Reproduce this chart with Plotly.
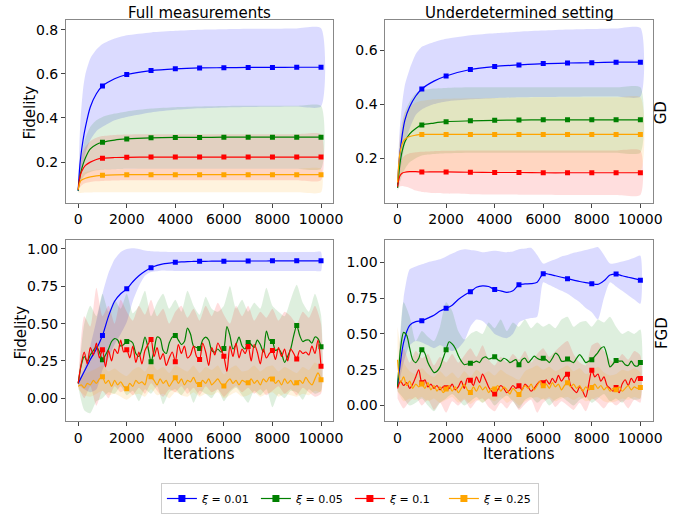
import plotly.graph_objects as go

# ---------------- data ----------------
labels = ["<i>ξ</i> = 0.01", "<i>ξ</i> = 0.05", "<i>ξ</i> = 0.1", "<i>ξ</i> = 0.25"]
colors = ["#0000ff", "#008000", "#ff0000", "#ffa500"]
band_colors = ["rgba(0,0,255,0.14)", "rgba(0,128,0,0.13)", "rgba(255,0,0,0.13)", "rgba(255,165,0,0.13)"]

x_ticks = [0, 2000, 4000, 6000, 8000, 10000]

# ---- GD, smooth curves (top row) ----
x_gd = [0, 50, 100, 200, 300, 500, 750, 1000, 1500, 2000, 3000, 4000, 5000, 6000, 7000, 8000, 9000, 10000]

# Full measurements, GD
tl_mean_001 = [0.07, 0.16, 0.22, 0.30, 0.36, 0.45, 0.51, 0.545, 0.578, 0.597, 0.615, 0.623, 0.627, 0.628, 0.629, 0.629, 0.630, 0.630]
tl_up_001 = [0.08, 0.28, 0.40, 0.53, 0.60, 0.67, 0.71, 0.735, 0.76, 0.775, 0.788, 0.795, 0.800, 0.802, 0.804, 0.805, 0.806, 0.807]
tl_lo_001 = [0.065, 0.10, 0.13, 0.19, 0.24, 0.30, 0.34, 0.36, 0.39, 0.405, 0.425, 0.437, 0.444, 0.448, 0.450, 0.451, 0.452, 0.452]
tl_mean_005 = [0.07, 0.12, 0.15, 0.19, 0.22, 0.26, 0.28, 0.29, 0.30, 0.305, 0.31, 0.312, 0.312, 0.313, 0.313, 0.313, 0.313, 0.313]
tl_up_005 = [0.08, 0.16, 0.21, 0.27, 0.31, 0.36, 0.39, 0.405, 0.42, 0.43, 0.443, 0.449, 0.452, 0.454, 0.455, 0.455, 0.455, 0.455]
tl_lo_005 = [0.06, 0.09, 0.11, 0.13, 0.145, 0.155, 0.163, 0.166, 0.168, 0.17, 0.17, 0.17, 0.17, 0.17, 0.17, 0.17, 0.17, 0.17]
tl_mean_01 = [0.075, 0.12, 0.145, 0.17, 0.185, 0.20, 0.212, 0.218, 0.221, 0.222, 0.223, 0.223, 0.223, 0.223, 0.223, 0.223, 0.223, 0.223]
tl_up_01 = [0.085, 0.17, 0.21, 0.25, 0.27, 0.295, 0.31, 0.318, 0.323, 0.325, 0.326, 0.326, 0.326, 0.326, 0.326, 0.326, 0.326, 0.326]
tl_lo_01 = [0.065, 0.08, 0.09, 0.10, 0.105, 0.11, 0.113, 0.115, 0.117, 0.118, 0.118, 0.118, 0.118, 0.118, 0.118, 0.118, 0.118, 0.118]
tl_mean_025 = [0.075, 0.10, 0.115, 0.122, 0.127, 0.133, 0.138, 0.14, 0.142, 0.143, 0.143, 0.143, 0.143, 0.143, 0.143, 0.143, 0.143, 0.143]
tl_up_025 = [0.085, 0.12, 0.14, 0.15, 0.155, 0.16, 0.165, 0.167, 0.168, 0.169, 0.17, 0.17, 0.17, 0.17, 0.17, 0.17, 0.17, 0.17]
tl_lo_025 = [0.065, 0.06, 0.06, 0.061, 0.062, 0.062, 0.063, 0.063, 0.063, 0.063, 0.063, 0.063, 0.063, 0.063, 0.063, 0.063, 0.063, 0.063]

# Underdetermined, GD
tr_mean_001 = [0.10, 0.17, 0.22, 0.29, 0.34, 0.39, 0.43, 0.456, 0.485, 0.504, 0.528, 0.539, 0.545, 0.550, 0.552, 0.553, 0.555, 0.555]
tr_up_001 = [0.11, 0.24, 0.32, 0.41, 0.47, 0.53, 0.585, 0.612, 0.63, 0.642, 0.655, 0.662, 0.668, 0.672, 0.676, 0.678, 0.680, 0.682]
tr_lo_001 = [0.09, 0.12, 0.15, 0.20, 0.25, 0.31, 0.36, 0.38, 0.40, 0.41, 0.418, 0.422, 0.425, 0.426, 0.427, 0.428, 0.428, 0.428]
tr_mean_005 = [0.09, 0.14, 0.18, 0.23, 0.26, 0.29, 0.31, 0.323, 0.33, 0.335, 0.338, 0.34, 0.341, 0.342, 0.342, 0.342, 0.342, 0.342]
tr_up_005 = [0.10, 0.20, 0.26, 0.33, 0.37, 0.41, 0.44, 0.452, 0.458, 0.46, 0.462, 0.462, 0.462, 0.462, 0.462, 0.462, 0.462, 0.462]
tr_lo_005 = [0.08, 0.09, 0.11, 0.14, 0.16, 0.185, 0.20, 0.21, 0.215, 0.218, 0.22, 0.22, 0.22, 0.22, 0.22, 0.22, 0.22, 0.22]
tr_mean_01 = [0.095, 0.12, 0.135, 0.145, 0.148, 0.15, 0.15, 0.149, 0.149, 0.149, 0.148, 0.147, 0.147, 0.146, 0.146, 0.146, 0.146, 0.146]
tr_up_01 = [0.10, 0.15, 0.175, 0.20, 0.21, 0.218, 0.222, 0.224, 0.226, 0.227, 0.228, 0.228, 0.228, 0.228, 0.228, 0.228, 0.228, 0.228]
tr_lo_01 = [0.09, 0.09, 0.095, 0.097, 0.095, 0.09, 0.08, 0.075, 0.071, 0.069, 0.067, 0.066, 0.065, 0.065, 0.064, 0.064, 0.064, 0.064]
tr_mean_025 = [0.11, 0.18, 0.22, 0.255, 0.27, 0.28, 0.285, 0.288, 0.288, 0.288, 0.288, 0.288, 0.288, 0.288, 0.288, 0.288, 0.288, 0.288]
tr_up_025 = [0.12, 0.23, 0.29, 0.34, 0.37, 0.39, 0.405, 0.412, 0.418, 0.42, 0.422, 0.423, 0.424, 0.425, 0.425, 0.425, 0.425, 0.425]
tr_lo_025 = [0.10, 0.12, 0.13, 0.14, 0.145, 0.148, 0.15, 0.15, 0.15, 0.15, 0.15, 0.15, 0.15, 0.15, 0.15, 0.15, 0.15, 0.15]

# ---- FGD (bottom row) ----
x_fine = [i * 125 for i in range(81)]     # noisy means
x_band = [i * 250 for i in range(41)]     # bands and xi=0.01 curves

# Full measurements, FGD
bl_mean_001 = [0.10, 0.18, 0.26, 0.33, 0.42, 0.55, 0.65, 0.70,
               0.733, 0.78, 0.82, 0.85, 0.874, 0.89, 0.90, 0.905,
               0.91, 0.913, 0.915, 0.916, 0.917, 0.917, 0.918, 0.918,
               0.918, 0.918, 0.918, 0.918, 0.919, 0.919, 0.919, 0.919,
               0.92, 0.92, 0.92, 0.92, 0.92, 0.92, 0.92, 0.92, 0.92]
bl_up_001 = [0.11, 0.20, 0.35, 0.52, 0.70, 0.84, 0.93, 0.98,
             1.00, 1.005, 1.00, 0.99, 0.985, 0.983, 0.981, 0.98,
             0.98, 0.98, 0.98, 0.98, 0.98, 0.98, 0.98, 0.98,
             0.98, 0.98, 0.98, 0.98, 0.98, 0.98, 0.98, 0.98,
             0.98, 0.98, 0.98, 0.98, 0.98, 0.98, 0.98, 0.98, 0.98]
bl_lo_001 = [0.09, 0.06, 0.04, 0.06, 0.19, 0.27, 0.36, 0.43,
             0.51, 0.65, 0.75, 0.82, 0.845, 0.85, 0.855, 0.853,
             0.852, 0.852, 0.852, 0.852, 0.852, 0.852, 0.852, 0.852,
             0.852, 0.852, 0.852, 0.852, 0.852, 0.852, 0.852, 0.852,
             0.852, 0.852, 0.852, 0.852, 0.852, 0.852, 0.852, 0.852, 0.852]
bl_mean_005 = [0.10, 0.22, 0.28, 0.25, 0.29, 0.32, 0.345, 0.31,
               0.258, 0.29, 0.33, 0.38, 0.40, 0.39, 0.35, 0.36,
               0.38, 0.385, 0.37, 0.30, 0.28, 0.33, 0.41, 0.34,
               0.245, 0.32, 0.41, 0.40, 0.32, 0.30, 0.37, 0.41,
               0.42, 0.39, 0.36, 0.38, 0.47, 0.43, 0.35, 0.34,
               0.334, 0.39, 0.41, 0.39, 0.32, 0.31, 0.33, 0.31,
               0.334, 0.48, 0.42, 0.33, 0.36, 0.41, 0.35, 0.33,
               0.374, 0.36, 0.34, 0.39, 0.36, 0.31, 0.45, 0.39,
               0.38, 0.32, 0.33, 0.30, 0.24, 0.28, 0.33, 0.42,
               0.487, 0.42, 0.38, 0.39, 0.39, 0.37, 0.41, 0.40,
               0.345]
bl_mean_01 = [0.10, 0.23, 0.31, 0.23, 0.34, 0.29, 0.37, 0.27,
              0.325, 0.21, 0.32, 0.25, 0.33, 0.30, 0.39, 0.31,
              0.325, 0.27, 0.35, 0.24, 0.31, 0.23, 0.32, 0.36,
              0.394, 0.28, 0.34, 0.26, 0.30, 0.22, 0.27, 0.31,
              0.245, 0.36, 0.30, 0.35, 0.27, 0.29, 0.35, 0.28,
              0.259, 0.37, 0.31, 0.22, 0.34, 0.29, 0.37, 0.33,
              0.281, 0.18, 0.35, 0.28, 0.37, 0.27, 0.33, 0.30,
              0.347, 0.25, 0.36, 0.31, 0.23, 0.33, 0.27, 0.30,
              0.32, 0.26, 0.34, 0.28, 0.33, 0.25, 0.33, 0.30,
              0.263, 0.32, 0.30, 0.31, 0.29, 0.35, 0.30, 0.39,
              0.214]
bl_mean_025 = [0.08, 0.09, 0.07, 0.10, 0.09, 0.12, 0.10, 0.13,
               0.144, 0.10, 0.12, 0.08, 0.12, 0.09, 0.11, 0.08,
               0.064, 0.10, 0.08, 0.12, 0.10, 0.11, 0.09, 0.16,
               0.144, 0.12, 0.09, 0.13, 0.10, 0.12, 0.08, 0.11,
               0.137, 0.10, 0.13, 0.09, 0.12, 0.11, 0.14, 0.10,
               0.093, 0.12, 0.10, 0.13, 0.09, 0.11, 0.13, 0.10,
               0.082, 0.11, 0.13, 0.10, 0.12, 0.09, 0.12, 0.11,
               0.104, 0.13, 0.10, 0.12, 0.09, 0.13, 0.11, 0.14,
               0.13, 0.10, 0.12, 0.09, 0.13, 0.10, 0.12, 0.09,
               0.104, 0.12, 0.10, 0.14, 0.11, 0.09, 0.13, 0.17,
               0.124]
bl_up_005 = [0.12, 0.50, 0.62, 0.55, 0.70, 0.58, 0.66, 0.60,
             0.70, 0.57, 0.62, 0.72, 0.55, 0.64, 0.70, 0.60,
             0.66, 0.58, 0.72, 0.62, 0.56, 0.68, 0.60, 0.58,
             0.62, 0.75, 0.60, 0.66, 0.58, 0.64, 0.60, 0.74,
             0.62, 0.58, 0.55, 0.66, 0.76, 0.64, 0.58, 0.70, 0.56]
bl_lo_005 = [0.08, -0.08, -0.10, -0.02, 0.00, 0.04, 0.03, 0.08,
             0.02, 0.05, -0.02, 0.06, 0.03, 0.08, -0.04, 0.04,
             0.06, 0.02, 0.07, -0.03, 0.05, 0.03, 0.00, 0.06,
             -0.02, 0.04, 0.07, 0.02, -0.03, 0.05, 0.02, 0.06,
             -0.06, 0.03, 0.00, 0.05, 0.04, -0.01, 0.06, 0.03, 0.05]
bl_up_01 = [0.12, 0.55, 0.48, 0.74, 0.55, 0.62, 0.50, 0.66,
            0.58, 0.52, 0.62, 0.56, 0.66, 0.55, 0.60, 0.50,
            0.58, 0.62, 0.54, 0.60, 0.52, 0.62, 0.55, 0.64,
            0.56, 0.50, 0.62, 0.55, 0.62, 0.52, 0.58, 0.54,
            0.60, 0.52, 0.58, 0.55, 0.50, 0.58, 0.54, 0.62, 0.50]
bl_lo_01 = [0.08, 0.00, 0.08, -0.05, 0.05, 0.00, 0.08, 0.04,
            0.06, 0.02, 0.07, 0.03, 0.10, 0.05, 0.01, 0.06,
            0.04, 0.08, 0.03, 0.07, 0.02, 0.08, 0.04, 0.06,
            0.01, 0.05, 0.08, 0.04, 0.07, 0.03, 0.06, 0.02,
            0.05, 0.08, 0.03, 0.06, 0.02, 0.07, 0.04, 0.01, 0.03]
bl_up_025 = [0.10, 0.16, 0.18, 0.20, 0.22, 0.18, 0.20, 0.17,
             0.15, 0.19, 0.21, 0.18, 0.24, 0.19, 0.21, 0.17,
             0.22, 0.20, 0.18, 0.22, 0.17, 0.21, 0.19, 0.22,
             0.16, 0.20, 0.22, 0.18, 0.19, 0.22, 0.18, 0.21,
             0.22, 0.18, 0.21, 0.19, 0.17, 0.21, 0.19, 0.24, 0.20]
bl_lo_025 = [0.06, 0.02, 0.01, 0.03, 0.05, 0.02, 0.03, 0.01,
             -0.01, 0.02, 0.03, 0.01, 0.06, 0.02, 0.03, 0.00,
             0.04, 0.02, 0.01, 0.04, 0.01, 0.03, 0.02, 0.04,
             0.00, 0.02, 0.04, 0.01, 0.02, 0.04, 0.01, 0.03,
             0.04, 0.01, 0.03, 0.02, 0.01, 0.03, 0.02, 0.05, 0.04]

# Underdetermined, FGD
br_mean_001 = [0.13, 0.44, 0.56, 0.585, 0.591, 0.61, 0.63, 0.66,
               0.678, 0.70, 0.74, 0.77, 0.793, 0.825, 0.835, 0.83,
               0.809, 0.80, 0.79, 0.80, 0.843, 0.848, 0.85, 0.86,
               0.92, 0.915, 0.905, 0.895, 0.885, 0.875, 0.865, 0.857,
               0.85, 0.845, 0.87, 0.91, 0.917, 0.905, 0.895, 0.885, 0.874]
br_up_001 = [0.20, 0.75, 0.95, 0.97, 0.985, 1.00, 1.01, 1.02,
             1.04, 1.06, 1.08, 1.09, 1.085, 1.08, 1.07, 1.075,
             1.08, 1.075, 1.07, 1.075, 1.09, 1.095, 1.10, 1.05,
             0.99, 1.005, 1.02, 1.04, 1.05, 1.065, 1.075, 1.085,
             1.095, 1.105, 1.05, 0.99, 0.995, 1.005, 1.015, 1.03, 1.045]
br_lo_001 = [0.10, 0.30, 0.42, 0.45, 0.44, 0.42, 0.40, 0.42,
             0.40, 0.38, 0.40, 0.45, 0.55, 0.60, 0.59, 0.55,
             0.50, 0.48, 0.47, 0.50, 0.58, 0.60, 0.61, 0.62,
             0.86, 0.84, 0.82, 0.80, 0.78, 0.75, 0.72, 0.68,
             0.65, 0.60, 0.75, 0.86, 0.83, 0.80, 0.77, 0.74, 0.71]
br_mean_005 = [0.13, 0.40, 0.51, 0.49, 0.40, 0.32, 0.30, 0.33,
               0.39, 0.365, 0.30, 0.26, 0.23, 0.24, 0.27, 0.33,
               0.39, 0.445, 0.43, 0.40, 0.35, 0.31, 0.285, 0.29,
               0.295, 0.30, 0.31, 0.30, 0.33, 0.34, 0.325, 0.33,
               0.34, 0.32, 0.31, 0.33, 0.32, 0.30, 0.31, 0.32,
               0.285, 0.32, 0.33, 0.30, 0.32, 0.345, 0.33, 0.32,
               0.33, 0.32, 0.30, 0.33, 0.365, 0.35, 0.31, 0.31,
               0.325, 0.31, 0.30, 0.33, 0.355, 0.33, 0.30, 0.31,
               0.32, 0.345, 0.37, 0.40, 0.41, 0.35, 0.27, 0.29,
               0.315, 0.31, 0.31, 0.285, 0.28, 0.31, 0.28, 0.275,
               0.30]
br_mean_01 = [0.12, 0.17, 0.14, 0.16, 0.12, 0.15, 0.20, 0.25,
              0.16, 0.18, 0.13, 0.15, 0.12, 0.14, 0.11, 0.13,
              0.125, 0.12, 0.15, 0.11, 0.13, 0.17, 0.12, 0.19,
              0.176, 0.14, 0.20, 0.16, 0.22, 0.18, 0.13, 0.10,
              0.08, 0.11, 0.14, 0.12, 0.09, 0.11, 0.14, 0.12,
              0.138, 0.11, 0.15, 0.13, 0.10, 0.12, 0.15, 0.17,
              0.16, 0.18, 0.15, 0.19, 0.16, 0.21, 0.17, 0.20,
              0.218, 0.14, 0.11, 0.09, 0.13, 0.10, 0.06, 0.15,
              0.246, 0.20, 0.22, 0.17, 0.20, 0.14, 0.12, 0.10,
              0.126, 0.09, 0.15, 0.18, 0.14, 0.19, 0.16, 0.20,
              0.189]
br_mean_025 = [0.32, 0.16, 0.20, 0.14, 0.17, 0.12, 0.15, 0.13,
               0.15, 0.12, 0.16, 0.11, 0.14, 0.10, 0.13, 0.09,
               0.115, 0.14, 0.10, 0.13, 0.09, 0.12, 0.15, 0.11,
               0.092, 0.13, 0.10, 0.14, 0.11, 0.13, 0.09, 0.12,
               0.115, 0.14, 0.10, 0.13, 0.11, 0.08, 0.12, 0.10,
               0.077, 0.11, 0.14, 0.12, 0.15, 0.11, 0.14, 0.17,
               0.138, 0.15, 0.12, 0.16, 0.13, 0.15, 0.11, 0.14,
               0.16, 0.13, 0.15, 0.12, 0.14, 0.10, 0.13, 0.11,
               0.126, 0.15, 0.12, 0.14, 0.11, 0.13, 0.10, 0.12,
               0.11, 0.13, 0.10, 0.12, 0.14, 0.11, 0.13, 0.12,
               0.126]
br_up_005 = [0.15, 0.72, 0.62, 0.45, 0.52, 0.48, 0.45, 0.55,
             0.72, 0.66, 0.52, 0.46, 0.50, 0.52, 0.50, 0.58,
             0.54, 0.60, 0.52, 0.58, 0.55, 0.60, 0.54, 0.58,
             0.55, 0.57, 0.54, 0.60, 0.62, 0.55, 0.58, 0.59,
             0.55, 0.60, 0.58, 0.62, 0.55, 0.50, 0.52, 0.50, 0.53]
br_lo_005 = [0.10, 0.05, 0.00, 0.02, 0.05, 0.00, -0.04, 0.02,
             0.05, 0.08, 0.04, 0.00, 0.03, 0.06, 0.02, 0.05,
             0.00, 0.04, 0.07, 0.03, -0.02, 0.04, 0.06, 0.02,
             0.05, 0.00, 0.04, 0.06, 0.03, 0.00, 0.04, 0.06,
             0.02, 0.05, 0.08, 0.03, 0.05, 0.02, 0.06, 0.04, 0.05]
br_up_01 = [0.20, 0.40, 0.30, 0.38, 0.33, 0.36, 0.28, 0.34,
            0.30, 0.36, 0.30, 0.35, 0.40, 0.34, 0.42, 0.32,
            0.28, 0.34, 0.30, 0.36, 0.32, 0.38, 0.30, 0.36,
            0.40, 0.34, 0.38, 0.42, 0.45, 0.36, 0.30, 0.28,
            0.42, 0.44, 0.38, 0.32, 0.30, 0.36, 0.32, 0.38, 0.35]
br_lo_01 = [0.05, -0.02, 0.03, 0.06, 0.00, 0.04, -0.03, 0.02,
            -0.05, 0.03, 0.00, 0.04, -0.02, 0.03, 0.05, -0.01,
            -0.04, 0.02, -0.02, 0.03, -0.03, 0.01, 0.04, -0.05,
            0.02, 0.05, -0.01, 0.03, 0.00, -0.03, 0.02, -0.04,
            0.05, 0.02, -0.02, 0.03, 0.00, 0.03, -0.02, 0.04, 0.02]
br_up_025 = [0.55, 0.30, 0.24, 0.22, 0.26, 0.22, 0.20, 0.24,
             0.20, 0.23, 0.19, 0.24, 0.20, 0.25, 0.22, 0.24,
             0.21, 0.25, 0.22, 0.20, 0.18, 0.24, 0.26, 0.28,
             0.25, 0.27, 0.24, 0.26, 0.28, 0.24, 0.26, 0.22,
             0.24, 0.27, 0.23, 0.21, 0.22, 0.25, 0.24, 0.26, 0.23]
br_lo_025 = [0.10, 0.03, 0.05, 0.04, 0.06, 0.03, 0.05, 0.02,
             0.04, 0.06, 0.02, 0.05, 0.01, 0.04, 0.02, 0.05,
             0.03, 0.06, 0.02, 0.04, 0.00, 0.03, 0.05, 0.06,
             0.04, 0.06, 0.03, 0.05, 0.06, 0.04, 0.06, 0.03,
             0.04, 0.06, 0.03, 0.02, 0.03, 0.05, 0.04, 0.06, 0.05]

# ---------------- figure ----------------
W, H = 698, 514
fig = go.Figure()

def fx(p):
    return p / W

def fy(p):
    return 1 - p / H

panels = {
    "tl": dict(xa="x", ya="y", xd=[fx(67), fx(338)], yd=[fy(204.5), fy(20)], yr=[0.017, 0.845],
               yt=[0.2, 0.4, 0.6, 0.8], fmt=".1f"),
    "tr": dict(xa="x2", ya="y2", xd=[fx(391), fx(662)], yd=[fy(204.5), fy(20.5)], yr=[0.036, 0.71],
               yt=[0.2, 0.4, 0.6], fmt=".1f"),
    "bl": dict(xa="x3", ya="y3", xd=[fx(67), fx(338)], yd=[fy(425), fy(242)], yr=[-0.151, 1.062],
               yt=[0.0, 0.25, 0.5, 0.75, 1.0], fmt=".2f"),
    "br": dict(xa="x4", ya="y4", xd=[fx(391), fx(662)], yd=[fy(425.5), fy(242)], yr=[-0.11, 1.157],
               yt=[0.0, 0.25, 0.5, 0.75, 1.0], fmt=".2f"),
}

series = {
    "tl": [(x_gd, tl_mean_001, x_gd, tl_up_001, tl_lo_001),
           (x_gd, tl_mean_005, x_gd, tl_up_005, tl_lo_005),
           (x_gd, tl_mean_01, x_gd, tl_up_01, tl_lo_01),
           (x_gd, tl_mean_025, x_gd, tl_up_025, tl_lo_025)],
    "tr": [(x_gd, tr_mean_001, x_gd, tr_up_001, tr_lo_001),
           (x_gd, tr_mean_005, x_gd, tr_up_005, tr_lo_005),
           (x_gd, tr_mean_01, x_gd, tr_up_01, tr_lo_01),
           (x_gd, tr_mean_025, x_gd, tr_up_025, tr_lo_025)],
    "bl": [(x_band, bl_mean_001, x_band, bl_up_001, bl_lo_001),
           (x_fine, bl_mean_005, x_band, bl_up_005, bl_lo_005),
           (x_fine, bl_mean_01, x_band, bl_up_01, bl_lo_01),
           (x_fine, bl_mean_025, x_band, bl_up_025, bl_lo_025)],
    "br": [(x_band, br_mean_001, x_band, br_up_001, br_lo_001),
           (x_fine, br_mean_005, x_band, br_up_005, br_lo_005),
           (x_fine, br_mean_01, x_band, br_up_01, br_lo_01),
           (x_fine, br_mean_025, x_band, br_up_025, br_lo_025)],
}

for key, p in panels.items():
    for i, (xm, ym, xb, yu, yl) in enumerate(series[key]):
        fig.add_trace(go.Scatter(
            x=list(xb) + list(xb)[::-1], y=list(yu) + list(yl)[::-1],
            mode="lines", line=dict(width=0, shape="spline", smoothing=0.6),
            fill="toself", fillcolor=band_colors[i], hoverinfo="skip",
            showlegend=False, xaxis=p["xa"], yaxis=p["ya"]))
    for i, (xm, ym, xb, yu, yl) in enumerate(series[key]):
        fig.add_trace(go.Scatter(
            x=xm, y=ym, mode="lines",
            line=dict(color=colors[i], width=1.2, shape="spline", smoothing=0.8),
            showlegend=False, xaxis=p["xa"], yaxis=p["ya"]))
        mx = [x for x in xm if x > 0 and x % 1000 == 0]
        my = [y for x, y in zip(xm, ym) if x > 0 and x % 1000 == 0]
        fig.add_trace(go.Scatter(
            x=mx, y=my, mode="markers",
            marker=dict(color=colors[i], symbol="square", size=5),
            showlegend=False, xaxis=p["xa"], yaxis=p["ya"]))

# legend entries
for i in range(4):
    fig.add_trace(go.Scatter(
        x=[None], y=[None], mode="lines+markers", name=labels[i],
        line=dict(color=colors[i], width=1.2),
        marker=dict(color=colors[i], symbol="square", size=7),
        xaxis="x", yaxis="y"))

font_family = "DejaVu Sans"
axis_common = dict(showline=True, linecolor="#888888", linewidth=1, mirror=True,
                   ticks="outside", ticklen=4, tickcolor="#444444",
                   showgrid=False, zeroline=False,
                   tickfont=dict(size=14, color="black", family=font_family))

layout = dict(
    width=W, height=H, margin=dict(l=0, r=0, t=0, b=0),
    paper_bgcolor="white", plot_bgcolor="white",
    font=dict(family=font_family, color="black"),
    showlegend=True,
    legend=dict(orientation="h", x=fx(355), xanchor="center", y=fy(488), yanchor="top",
                bordercolor="#cccccc", borderwidth=1, bgcolor="white",
                font=dict(size=11, family=font_family),
                entrywidth=49, entrywidthmode="pixels", itemwidth=30),
)
for key, p in panels.items():
    xn = "xaxis" + p["xa"][1:]
    yn = "yaxis" + p["ya"][1:]
    layout[xn] = dict(domain=p["xd"], range=[-500, 10500], tickvals=x_ticks, tickformat="d",
                      anchor=p["ya"], **axis_common)
    layout[yn] = dict(domain=p["yd"], range=p["yr"], tickvals=p["yt"], tickformat=p["fmt"],
                      anchor=p["xa"], **axis_common)

fig.update_layout(**layout)

ann = [
    dict(text="Full measurements", x=202.5, y=12.7, angle=0),
    dict(text="Underdetermined setting", x=526.7, y=12.7, angle=0),
    dict(text="Fidelity", x=30, y=114, angle=-90),
    dict(text="Fidelity", x=21, y=336, angle=-90),
    dict(text="GD", x=671, y=114, angle=-90),
    dict(text="FGD", x=671, y=336, angle=-90),
    dict(text="Iterations", x=202, y=458, angle=0),
    dict(text="Iterations", x=526.7, y=458.5, angle=0),
]
for a in ann:
    fig.add_annotation(text=a["text"], x=fx(a["x"]), y=fy(a["y"]), xref="paper", yref="paper",
                       xanchor="center", yanchor="middle", showarrow=False,
                       textangle=a["angle"], font=dict(size=15, family=font_family, color="black"))

# remove the default page margin so the figure sits at the window's top-left corner
fig.write_html("out.html", config={"displayModeBar": False},
               post_script="document.body.style.margin='0px';")
